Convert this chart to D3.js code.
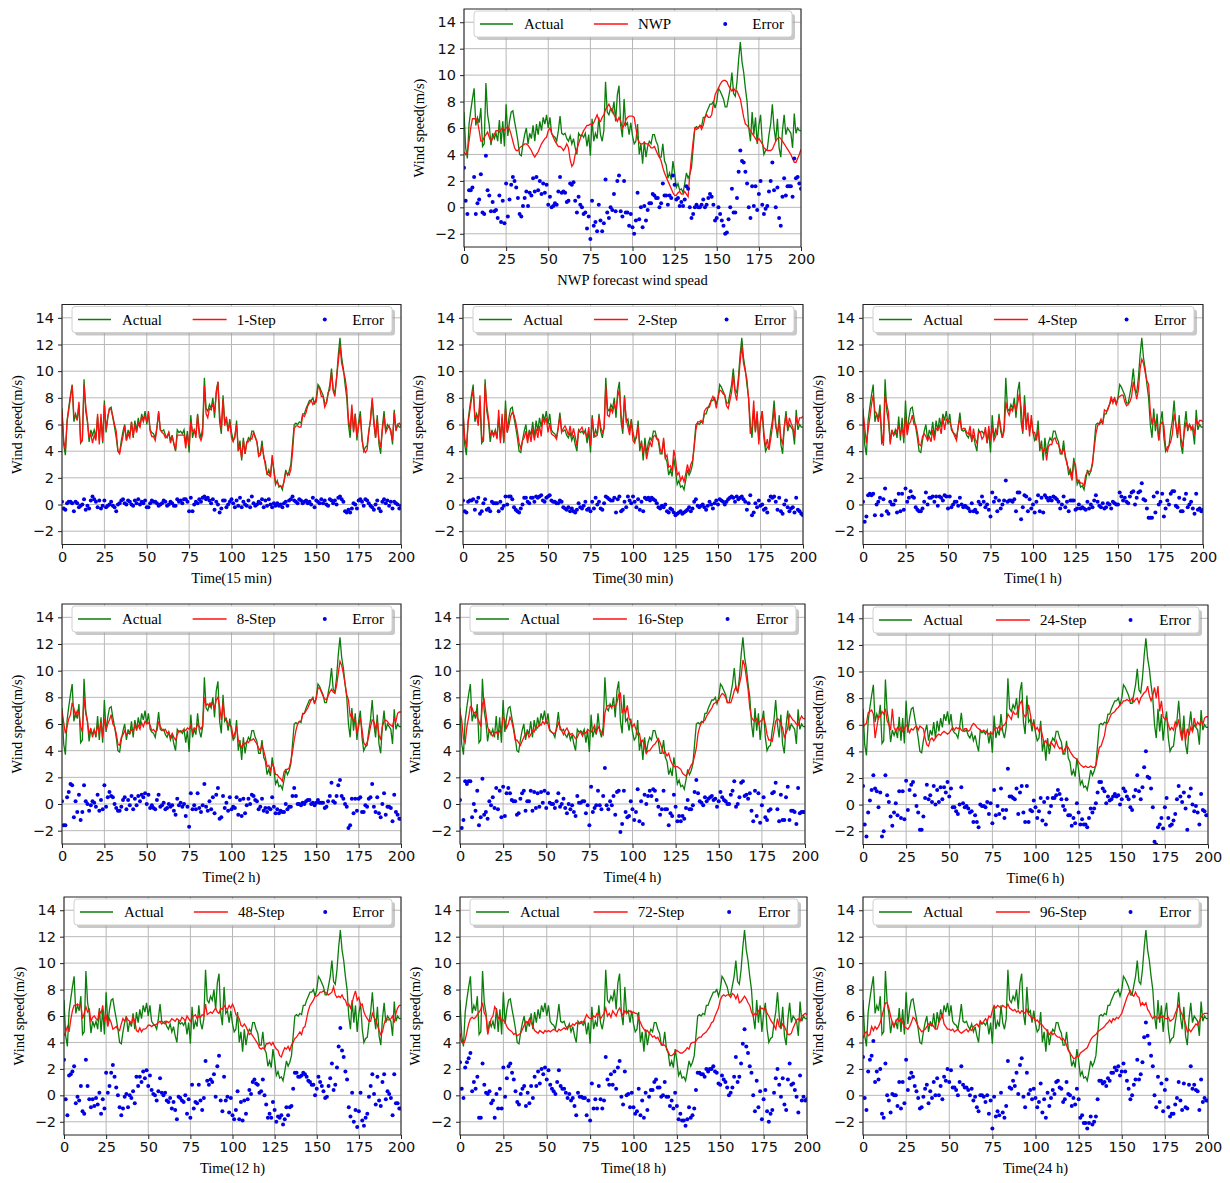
<!DOCTYPE html>
<html><head><meta charset="utf-8">
<script src="https://cdn.jsdelivr.net/npm/d3@7"></script>
<style>body{margin:0;background:#fff}svg{display:block}</style>
</head><body>
<svg id="c" width="1230" height="1183"></svg>
<script>
const actual=[7.2,4.5,3.7,6.3,7.3,8.2,9.0,6.2,6.8,6.4,7.5,4.6,4.8,9.4,7.0,6.2,4.7,5.6,5.2,5.6,5.0,6.6,4.8,6.5,4.6,7.8,5.4,6.5,7.2,7.3,6.5,5.8,5.0,4.0,3.9,4.8,5.5,6.0,4.8,5.6,5.2,6.2,5.0,6.3,5.5,6.5,5.8,6.8,6.3,7.0,6.0,6.8,5.6,5.4,5.3,5.0,5.8,6.9,5.6,5.5,5.6,5.2,5.0,5.4,4.8,5.2,4.5,4.0,5.6,5.4,5.5,5.3,5.6,4.6,5.5,3.9,6.7,5.0,5.6,5.2,6.8,5.5,5.0,5.8,9.5,7.2,7.0,7.5,7.2,8.0,6.5,8.5,9.2,6.2,5.3,8.2,6.2,6.4,5.5,6.4,5.4,4.8,5.0,6.3,4.0,4.8,3.3,5.0,3.8,4.6,5.0,4.8,5.5,5.5,5.0,4.7,3.8,3.8,4.8,3.5,3.2,2.2,2.6,2.1,3.5,2.6,1.5,1.8,1.3,1.4,1.1,1.8,2.6,2.2,2.5,3.0,4.5,6.0,6.1,6.0,6.2,6.1,6.8,6.8,7.2,7.5,7.8,7.8,8.0,7.5,8.0,9.0,8.8,8.5,8.2,7.6,7.6,8.3,9.0,10.2,8.6,8.4,9.5,11.2,12.5,11.0,10.2,9.0,8.0,6.0,5.0,7.2,5.5,6.8,4.8,6.2,7.0,5.0,4.0,4.3,4.4,5.5,6.3,7.8,6.0,5.0,6.7,4.5,3.8,5.8,7.0,5.5,6.0,5.8,5.6,4.5,7.1,5.6,6.0,5.8,5.8];

const nwpFc=[4.2,4.0,4.2,5.0,6.0,6.7,6.7,6.7,6.5,5.8,5.0,5.0,5.3,5.5,5.7,5.3,5.0,5.2,5.5,5.8,5.8,5.7,5.9,6.0,5.8,6.0,6.1,5.9,5.5,5.0,4.5,4.3,4.3,4.5,4.6,4.7,4.8,4.8,4.7,4.5,4.3,4.0,3.8,4.0,4.2,4.5,4.8,5.0,5.2,5.3,5.8,6.0,5.6,5.3,5.0,4.8,4.6,4.6,4.5,4.3,4.5,4.8,4.5,3.6,3.1,3.3,4.0,4.4,4.8,5.2,5.5,5.8,6.0,6.2,6.2,6.3,6.2,6.4,6.7,7.0,6.6,6.5,6.8,7.0,7.4,7.6,7.8,7.5,7.4,7.0,6.8,6.5,6.8,6.5,6.0,6.2,6.6,6.8,6.9,6.9,6.9,6.8,6.0,5.2,4.9,4.8,4.8,4.9,4.8,4.8,4.7,4.5,4.5,4.6,4.3,4.0,3.8,3.5,3.0,2.6,2.3,2.0,1.7,1.4,1.1,0.9,0.9,1.1,1.2,1.0,1.0,1.2,1.0,0.8,2.5,3.8,5.0,6.0,5.9,6.0,6.2,5.9,6.2,6.8,7.0,6.8,6.8,7.0,7.8,8.5,8.8,9.0,9.3,9.5,9.6,9.6,9.5,9.2,9.0,8.8,9.0,8.8,8.8,8.5,8.2,7.5,6.8,6.3,6.2,6.0,5.8,5.6,5.4,5.2,5.0,5.2,5.0,4.8,4.5,4.4,4.3,4.3,4.3,4.4,4.7,5.0,5.2,5.3,5.2,5.0,4.8,4.6,4.4,4.2,4.0,3.7,3.4,3.4,3.7,4.0,4.4];
const nwpErr=[3.0,0.5,-0.5,1.3,1.3,1.5,2.3,-0.5,0.3,0.6,2.5,-0.4,-0.5,3.9,1.3,0.9,-0.3,0.4,-0.3,-0.2,-0.8,0.9,-1.1,0.5,-1.2,1.8,-0.7,0.6,1.7,2.3,2.0,1.5,0.7,-0.5,-0.7,0.1,0.7,1.2,0.1,1.1,0.9,2.2,1.2,2.3,1.3,2.0,1.0,1.8,1.1,1.7,0.2,0.8,0.0,0.1,0.3,0.2,1.2,2.3,1.1,1.2,1.1,0.4,0.5,1.8,1.7,1.9,0.5,-0.4,0.8,0.2,0.0,-0.5,-0.4,-1.6,-0.7,-2.4,0.5,-1.4,-1.1,-1.8,0.2,-1.0,-1.8,-1.2,2.1,-0.4,-0.8,0.0,-0.2,1.0,-0.3,2.0,2.4,-0.3,-0.7,2.0,-0.4,-0.4,-1.4,-0.5,-1.5,-2.0,-1.0,1.1,-0.9,0.0,-1.5,0.1,-1.0,-0.2,0.3,0.3,1.0,0.9,0.7,0.7,0.0,0.3,1.8,0.9,0.9,0.2,0.9,0.7,2.4,1.7,0.6,0.7,0.1,0.4,0.1,0.6,1.6,1.4,0.0,-0.8,-0.5,0.0,0.2,0.0,0.0,0.2,0.6,0.0,0.2,0.7,1.0,0.8,0.2,-1.0,-0.8,0.0,-0.5,-1.0,-1.4,-2.0,-1.9,-0.9,0.0,1.4,-0.4,-0.4,0.7,2.7,4.3,3.5,3.4,2.7,1.8,0.0,-0.8,1.6,0.1,1.6,-0.2,1.0,2.0,0.2,-0.5,-0.1,0.1,1.2,2.0,3.4,1.3,0.0,1.5,-0.8,-1.4,0.8,2.2,0.9,1.6,1.6,1.6,0.8,3.7,2.2,2.3,1.8,1.4];

const step1Fc=[7.0,4.8,4.1,6.2,7.1,8.0,8.9,6.7,6.6,6.3,7.7,4.7,4.8,9.0,7.4,6.3,5.0,5.3,4.6,5.2,4.8,6.8,4.5,6.8,4.7,7.5,5.6,6.6,7.2,7.1,6.6,6.0,5.5,4.0,3.8,4.5,5.1,5.9,4.8,5.3,5.0,6.2,5.1,6.0,5.4,6.1,5.8,6.6,6.2,6.7,6.2,7.0,5.5,5.1,5.1,4.8,5.7,7.0,5.6,5.4,5.3,5.0,5.1,5.4,4.6,5.1,4.6,4.1,5.2,5.2,5.2,5.2,5.2,4.2,5.3,4.4,6.2,5.5,5.6,5.0,6.7,5.1,4.8,5.3,8.9,6.8,6.5,7.2,7.1,7.6,6.9,8.3,9.2,6.8,5.6,7.9,5.9,6.6,5.5,6.2,5.0,4.7,5.2,6.0,4.1,4.3,3.5,4.8,3.8,4.7,4.7,5.0,4.9,5.4,5.1,4.7,3.6,3.7,4.4,3.7,2.9,2.3,2.2,2.1,3.7,2.5,1.6,1.7,1.4,1.4,1.3,1.7,2.4,2.3,2.2,2.6,3.9,5.7,5.9,5.9,5.8,5.8,6.7,6.6,6.9,7.4,7.6,7.8,7.5,7.7,7.7,8.8,8.7,8.1,8.1,7.3,7.6,8.4,8.6,9.9,8.5,8.1,9.5,10.7,11.9,10.6,10.0,9.5,8.6,6.4,5.6,7.5,5.4,6.8,5.1,5.9,6.6,4.8,4.1,3.9,4.1,5.4,6.4,8.0,6.4,5.0,6.4,4.8,4.3,5.6,6.6,5.4,5.7,5.9,5.4,4.8,6.9,5.5,6.0,6.1,5.9];
const step1Err=[0.2,-0.3,-0.4,0.1,0.2,0.2,0.1,-0.5,0.2,0.1,-0.2,-0.1,0.0,0.4,-0.4,-0.1,-0.3,0.3,0.6,0.4,0.2,-0.2,0.3,-0.3,-0.1,0.3,-0.2,-0.1,0.0,0.2,-0.1,-0.2,-0.5,0.0,0.1,0.3,0.4,0.1,0.0,0.3,0.2,0.0,-0.1,0.3,0.1,0.4,0.0,0.2,0.1,0.3,-0.2,-0.2,0.1,0.3,0.2,0.2,0.1,-0.1,0.0,0.1,0.3,0.2,-0.1,0.0,0.2,0.1,-0.1,-0.1,0.4,0.2,0.3,0.1,0.4,0.4,0.2,-0.5,0.5,-0.5,0.0,0.2,0.1,0.4,0.2,0.5,0.6,0.4,0.5,0.3,0.1,0.4,-0.4,0.2,0.0,-0.6,-0.3,0.3,0.3,-0.2,0.0,0.2,0.4,0.1,-0.2,0.3,-0.1,0.5,-0.2,0.2,0.0,-0.1,0.3,-0.2,0.6,0.1,-0.1,0.0,0.2,0.1,0.4,-0.2,0.3,-0.1,0.4,0.0,-0.2,0.1,-0.1,0.1,-0.1,0.0,-0.2,0.1,0.2,-0.1,0.3,0.4,0.6,0.3,0.2,0.1,0.4,0.3,0.1,0.2,0.3,0.1,0.2,0.0,0.5,-0.2,0.3,0.2,0.1,0.4,0.1,0.3,0.0,-0.1,0.4,0.3,0.1,0.3,0.0,0.5,0.6,0.4,0.2,-0.5,-0.6,-0.4,-0.6,-0.3,0.1,0.0,-0.3,0.3,0.4,0.2,-0.1,0.4,0.3,0.1,-0.1,-0.2,-0.4,0.0,0.3,-0.3,-0.5,0.2,0.4,0.1,0.3,-0.1,0.2,-0.3,0.2,0.1,0.0,-0.3,-0.1];

const step2Fc=[6.9,5.0,4.3,6.1,7.0,7.9,8.6,6.6,6.6,5.9,8.2,5.1,4.7,9.0,7.4,6.5,5.2,5.4,5.1,5.5,4.9,7.1,4.6,6.8,4.7,7.2,5.4,5.9,6.6,6.9,6.7,6.2,5.5,4.6,4.2,4.8,5.0,5.5,4.6,5.5,4.7,5.7,4.8,5.7,5.0,5.9,5.1,6.5,6.1,6.5,5.4,6.1,5.3,5.2,5.1,4.9,5.7,6.6,5.4,5.7,5.9,5.6,5.2,5.9,5.1,5.7,5.1,4.4,5.5,5.6,5.8,5.4,5.4,5.0,5.8,4.4,6.5,5.3,5.1,5.2,6.6,5.8,5.4,5.7,8.9,6.7,6.6,7.2,6.9,7.5,7.1,8.1,8.6,6.7,5.7,8.0,6.4,5.8,5.2,6.3,4.8,4.6,5.2,5.9,4.4,4.6,3.8,4.5,3.4,4.1,4.7,4.3,5.1,5.2,4.9,4.9,4.1,3.9,5.0,3.5,3.7,2.8,2.9,2.5,4.1,3.4,2.2,2.4,1.8,2.1,1.7,2.3,3.0,2.4,3.0,3.3,4.3,5.6,6.2,6.2,6.3,6.1,7.0,7.2,7.3,7.3,7.8,8.1,7.9,7.2,8.0,8.6,8.5,8.3,8.2,7.4,7.2,7.8,8.4,9.7,8.4,7.8,9.1,10.7,11.9,10.6,10.0,9.4,7.9,5.3,5.8,7.8,5.4,7.0,4.5,6.3,7.0,5.4,4.3,4.9,4.1,4.9,5.8,7.2,5.8,5.4,6.2,5.0,4.5,5.8,6.7,5.7,6.5,6.1,5.8,5.1,6.6,6.0,6.5,6.5,6.6];
const step2Err=[0.3,-0.5,-0.6,0.2,0.3,0.3,0.4,-0.4,0.2,0.5,-0.7,-0.5,0.1,0.4,-0.4,-0.3,-0.5,0.2,0.1,0.1,0.1,-0.5,0.2,-0.3,-0.1,0.6,0.0,0.6,0.6,0.4,-0.2,-0.4,-0.5,-0.6,-0.3,0.0,0.5,0.5,0.2,0.1,0.5,0.5,0.2,0.6,0.5,0.6,0.7,0.3,0.2,0.5,0.6,0.7,0.3,0.2,0.2,0.1,0.1,0.3,0.2,-0.2,-0.3,-0.4,-0.2,-0.5,-0.3,-0.5,-0.6,-0.4,0.1,-0.2,-0.3,-0.1,0.2,-0.4,-0.3,-0.5,0.2,-0.3,0.5,0.0,0.2,-0.3,-0.4,0.1,0.6,0.5,0.4,0.3,0.3,0.5,-0.6,0.4,0.6,-0.5,-0.4,0.2,-0.2,0.6,0.3,0.1,0.6,0.2,-0.2,0.4,-0.4,0.2,-0.5,0.5,0.4,0.5,0.3,0.5,0.4,0.3,0.1,-0.2,-0.3,-0.1,-0.2,0.0,-0.5,-0.6,-0.3,-0.4,-0.6,-0.8,-0.7,-0.6,-0.5,-0.7,-0.6,-0.5,-0.4,-0.2,-0.5,-0.3,0.2,0.4,-0.1,-0.2,-0.1,0.0,-0.2,-0.4,-0.1,0.2,0.0,-0.3,0.1,0.3,0.0,0.4,0.3,0.2,0.0,0.2,0.4,0.5,0.6,0.5,0.2,0.6,0.4,0.5,0.6,0.4,0.2,-0.4,0.1,0.7,-0.8,-0.6,0.1,-0.2,0.3,-0.1,0.0,-0.4,-0.3,-0.6,0.3,0.6,0.5,0.6,0.2,-0.4,0.5,-0.5,-0.7,0.0,0.3,-0.2,-0.5,-0.3,-0.2,-0.6,0.5,-0.4,-0.5,-0.7,-0.8];

const step4Fc=[7.0,5.8,4.6,5.6,6.5,7.5,8.2,7.0,6.8,6.2,7.0,5.4,4.4,8.2,7.5,6.9,4.5,5.6,5.2,5.3,5.6,5.8,5.3,5.7,5.0,6.6,5.2,6.0,6.2,6.7,6.0,6.0,5.4,4.5,4.4,5.1,5.3,5.1,4.8,5.1,4.7,5.6,4.8,5.7,5.6,5.9,5.3,6.5,5.6,6.4,6.3,6.2,5.8,5.4,5.1,4.8,5.9,6.4,5.6,5.7,5.7,5.4,5.3,5.9,4.7,5.7,4.9,4.6,5.4,5.4,4.9,5.1,5.8,4.6,5.9,4.8,5.8,4.8,5.1,5.7,6.5,5.8,5.0,5.5,7.7,7.0,6.7,7.2,7.0,7.6,7.0,7.6,8.3,7.3,5.5,7.5,5.6,6.9,5.1,6.7,5.4,5.4,4.8,5.6,4.5,4.3,3.9,4.3,3.3,4.3,4.5,4.5,4.9,5.0,4.6,4.5,4.1,3.8,4.2,3.7,3.0,2.7,2.3,1.8,3.2,3.0,1.8,1.8,1.6,1.6,1.4,2.2,2.4,2.5,2.5,3.2,4.2,5.3,5.9,6.1,6.4,6.0,7.1,7.0,7.1,7.5,8.1,7.6,7.9,7.5,8.0,8.1,8.2,8.2,7.7,7.4,7.5,7.7,8.1,9.2,8.6,7.9,8.6,10.2,10.9,10.6,9.9,9.3,9.0,7.0,6.0,6.6,6.1,5.9,4.8,6.0,6.2,5.9,4.3,4.0,4.4,4.7,5.3,6.8,6.1,5.2,6.2,5.0,4.3,5.4,6.2,5.7,6.0,5.6,5.9,5.2,6.3,6.0,6.3,6.3,6.2];
const step4Err=[0.2,-1.3,-0.9,0.7,0.8,0.7,0.8,-0.8,0.0,0.2,0.5,-0.8,0.4,1.2,-0.5,-0.7,0.2,0.0,0.0,0.3,-0.6,0.8,-0.5,0.8,-0.4,1.2,0.2,0.5,1.0,0.6,0.5,-0.2,-0.4,-0.5,-0.5,-0.3,0.2,0.9,0.0,0.5,0.5,0.6,0.2,0.6,-0.1,0.6,0.5,0.3,0.7,0.6,-0.3,0.6,-0.2,0.0,0.2,0.2,-0.1,0.5,0.0,-0.2,-0.1,-0.2,-0.3,-0.5,0.1,-0.5,-0.4,-0.6,0.2,0.0,0.6,0.2,-0.2,0.0,-0.4,-0.9,0.9,0.2,0.5,-0.5,0.3,-0.3,0.0,0.3,1.8,0.2,0.3,0.3,0.2,0.4,-0.5,0.9,0.9,-1.1,-0.2,0.7,0.6,-0.5,0.4,-0.3,0.0,-0.6,0.2,0.7,-0.5,0.5,-0.6,0.7,0.5,0.3,0.5,0.3,0.6,0.5,0.4,0.2,-0.3,0.0,0.6,-0.2,0.2,-0.5,0.3,0.3,0.3,-0.4,-0.3,0.0,-0.3,-0.2,-0.3,-0.4,0.2,-0.3,0.0,-0.2,0.3,0.7,0.2,-0.1,-0.2,0.1,-0.3,-0.2,0.1,0.0,-0.3,0.2,0.1,0.0,0.0,0.9,0.6,0.3,0.5,0.2,0.1,0.6,0.9,1.0,0.0,0.5,0.9,1.0,1.6,0.4,0.3,-0.3,-1.0,-1.0,-1.0,0.6,-0.6,0.9,0.0,0.2,0.8,-0.9,-0.3,0.3,0.0,0.8,1.0,1.0,-0.1,-0.2,0.5,-0.5,-0.5,0.4,0.8,-0.2,0.0,0.2,-0.3,-0.7,0.8,-0.4,-0.3,-0.5,-0.4];

const step8Fc=[7.0,6.1,5.3,5.8,6.4,6.7,7.6,7.2,6.6,7.0,6.8,5.8,5.4,8.0,6.8,6.2,5.2,5.7,5.0,5.5,5.2,5.9,5.3,6.2,5.0,6.4,5.6,6.0,6.3,6.7,6.0,5.8,5.3,4.5,4.4,5.0,5.2,5.5,5.2,5.3,5.3,5.6,5.4,5.9,5.6,5.9,5.6,6.1,5.8,6.2,6.0,6.1,5.9,5.5,5.6,5.4,5.5,6.2,5.8,5.6,5.5,5.6,5.3,5.4,5.0,5.3,5.0,4.8,5.2,5.5,5.4,5.5,5.6,5.5,5.7,5.6,5.9,5.4,5.7,5.6,6.0,5.8,5.6,5.9,8.0,7.4,7.5,7.3,7.6,7.5,7.2,7.8,8.0,7.3,6.3,7.6,6.5,6.3,6.0,5.9,5.8,5.0,5.3,5.8,4.8,4.5,4.2,4.6,4.5,4.7,4.6,4.8,4.8,4.9,4.7,4.5,4.2,4.0,4.4,4.0,3.5,2.8,2.9,2.5,3.0,2.8,2.2,2.2,2.0,1.9,1.7,2.4,2.6,2.6,2.7,3.2,3.9,4.8,5.5,6.0,6.2,6.2,6.7,6.8,7.0,7.2,7.5,7.8,7.9,7.6,7.9,8.7,8.7,8.4,8.1,7.9,7.8,8.1,8.4,8.6,8.4,8.3,8.9,9.8,10.7,10.4,9.8,9.0,8.2,7.8,6.6,6.8,6.2,6.4,5.3,5.8,6.5,5.6,4.6,4.4,4.6,5.1,5.8,6.3,6.2,5.6,6.2,5.2,4.8,5.8,6.2,6.3,6.2,6.0,5.9,5.8,6.4,6.2,6.8,6.9,6.9];
const step8Err=[0.2,-1.6,-1.6,0.5,0.9,1.5,1.4,-1.0,0.2,-0.6,0.7,-1.2,-0.6,1.4,0.2,0.0,-0.5,-0.1,0.2,0.1,-0.2,0.7,-0.5,0.3,-0.4,1.4,-0.2,0.5,0.9,0.6,0.5,0.0,-0.3,-0.5,-0.5,-0.2,0.3,0.5,-0.4,0.3,-0.1,0.6,-0.4,0.4,-0.1,0.6,0.2,0.7,0.5,0.8,0.0,0.7,-0.3,-0.1,-0.3,-0.4,0.3,0.7,-0.2,-0.1,0.1,-0.4,-0.3,0.0,-0.2,-0.1,-0.5,-0.8,0.4,-0.1,0.1,-0.2,0.0,-0.9,-0.2,-1.7,0.8,-0.4,-0.1,-0.4,0.8,-0.3,-0.6,-0.1,1.5,-0.2,-0.5,0.2,-0.4,0.5,-0.7,0.7,1.2,-1.1,-1.0,0.6,-0.3,0.1,-0.5,0.5,-0.4,-0.2,-0.3,0.5,-0.8,0.3,-0.9,0.4,-0.7,-0.1,0.4,0.0,0.7,0.6,0.3,0.2,-0.4,-0.2,0.4,-0.5,-0.3,-0.6,-0.3,-0.4,0.5,-0.2,-0.7,-0.4,-0.7,-0.5,-0.6,-0.6,0.0,-0.4,-0.2,-0.2,0.6,1.2,0.6,0.0,0.0,-0.1,0.1,0.0,0.2,0.3,0.3,0.0,0.1,-0.1,0.1,0.3,0.1,0.1,0.1,-0.3,-0.2,0.2,0.6,1.6,0.2,0.1,0.6,1.4,1.8,0.6,0.4,0.0,-0.2,-1.8,-1.6,0.4,-0.7,0.4,-0.5,0.4,0.5,-0.6,-0.6,-0.1,-0.2,0.4,0.5,1.5,-0.2,-0.6,0.5,-0.7,-1.0,0.0,0.8,-0.8,-0.2,-0.2,-0.3,-1.3,0.7,-0.6,-0.8,-1.1,-1.1];

const step16Fc=[6.9,6.3,4.9,4.6,5.8,6.5,7.3,7.2,6.8,6.9,6.5,6.2,5.8,7.5,7.8,6.8,5.8,5.4,5.3,5.1,5.3,5.4,5.2,5.5,5.6,6.5,6.3,5.7,6.0,6.5,6.2,5.6,4.8,4.8,4.6,4.4,4.7,5.0,5.3,5.4,5.0,5.2,5.5,5.4,5.8,5.7,6.0,5.9,6.2,6.0,6.3,6.0,5.5,5.4,5.3,5.3,5.6,6.1,5.8,5.5,5.2,5.5,5.7,5.4,5.2,5.3,5.1,4.9,5.0,5.3,5.4,5.1,5.4,5.3,5.6,5.5,5.4,5.6,5.9,5.3,5.8,5.6,5.4,5.2,6.8,7.3,7.4,7.3,7.3,7.4,7.3,7.6,8.2,8.3,6.8,7.2,6.8,7.4,6.4,6.2,5.8,6.0,5.6,5.2,5.3,4.6,4.8,4.3,3.8,4.0,4.0,4.2,4.4,4.5,4.7,4.9,4.6,4.2,3.8,3.9,3.6,3.8,3.3,3.0,2.8,2.8,2.8,2.7,2.6,2.3,2.2,2.1,2.3,2.6,2.9,3.1,3.6,4.2,5.3,5.8,6.1,6.2,6.3,6.6,6.8,7.0,7.2,7.5,7.6,7.7,7.8,8.1,8.3,8.2,8.0,7.6,7.6,7.6,8.0,8.5,8.8,8.4,9.0,9.6,10.8,10.4,9.5,8.6,7.2,6.5,6.3,6.2,6.4,6.0,6.2,6.3,6.5,6.0,5.2,4.8,4.8,4.7,5.4,6.2,6.4,6.3,6.0,5.7,5.0,5.3,5.7,6.7,6.5,6.3,6.2,6.0,5.9,6.3,6.6,6.4,6.4];
const step16Err=[0.3,-1.8,-1.2,1.7,1.5,1.7,1.7,-1.0,0.0,-0.5,1.0,-1.6,-1.0,1.9,-0.8,-0.6,-1.1,0.2,-0.1,0.5,-0.3,1.2,-0.4,1.0,-1.0,1.3,-0.9,0.8,1.2,0.8,0.3,0.2,0.2,-0.8,-0.7,0.4,0.8,1.0,-0.5,0.2,0.2,1.0,-0.5,0.9,-0.3,0.8,-0.2,0.9,0.1,1.0,-0.3,0.8,0.1,0.0,0.0,-0.3,0.2,0.8,-0.2,0.0,0.4,-0.3,-0.7,0.0,-0.4,-0.1,-0.6,-0.9,0.6,0.1,0.1,0.2,0.2,-0.7,-0.1,-1.6,1.3,-0.6,-0.3,-0.1,1.0,-0.1,-0.4,0.6,2.7,-0.1,-0.4,0.2,-0.1,0.6,-0.8,0.9,1.0,-2.1,-1.5,1.0,-0.6,-1.0,-0.9,0.2,-0.4,-1.2,-0.6,1.1,-1.3,0.2,-1.5,0.7,0.0,0.6,1.0,0.6,1.1,1.0,0.3,-0.2,-0.8,-0.4,1.0,-0.4,-0.4,-1.6,-0.7,-0.9,0.7,-0.2,-1.3,-0.9,-1.3,-0.9,-1.1,-0.3,0.3,-0.4,-0.4,-0.1,0.9,1.8,0.8,0.2,0.1,-0.1,0.5,0.2,0.4,0.5,0.6,0.3,0.4,-0.2,0.2,0.9,0.5,0.3,0.2,0.0,0.0,0.7,1.0,1.7,-0.2,0.0,0.5,1.6,1.7,0.6,0.7,0.4,0.8,-0.5,-1.3,1.0,-0.9,0.8,-1.4,-0.1,0.5,-1.0,-1.2,-0.5,-0.4,0.8,0.9,1.6,-0.4,-1.3,0.7,-1.2,-1.2,0.5,1.3,-1.2,-0.5,-0.5,-0.6,-1.5,1.2,-0.7,-0.6,-0.6,-0.6];

const step24Fc=[5.8,6.0,6.1,6.9,7.0,7.1,6.8,5.0,5.8,6.6,6.6,7.0,6.8,7.2,6.3,6.0,5.6,7.2,5.8,5.5,5.8,5.6,5.8,5.5,5.7,6.0,5.8,5.4,5.7,5.6,5.8,5.9,5.6,5.9,5.8,5.7,5.0,4.5,4.4,4.9,5.0,4.8,5.0,5.2,5.3,5.2,5.4,5.5,5.4,5.3,5.4,5.6,5.8,5.6,5.8,5.7,5.8,5.6,5.5,5.7,5.7,5.5,5.6,5.9,6.1,6.0,5.8,5.7,5.6,5.5,5.6,5.5,5.4,5.3,5.4,5.3,5.6,5.8,5.7,5.9,5.6,5.9,6.0,6.2,6.8,6.6,6.4,7.0,6.8,6.8,7.2,7.6,7.8,6.8,6.6,6.8,7.5,6.8,6.0,6.1,5.6,5.8,5.5,5.8,5.2,4.6,4.8,4.5,4.4,4.7,4.5,4.3,4.8,4.4,4.2,4.3,3.9,4.2,4.4,4.3,4.0,3.8,3.6,3.5,3.4,3.2,3.0,2.9,2.8,2.9,2.8,2.8,2.9,2.8,2.8,2.9,3.6,4.3,4.4,4.8,5.2,6.0,6.2,6.5,6.8,6.9,7.0,7.2,7.3,7.5,7.6,7.8,7.8,7.9,7.8,7.8,8.0,7.7,7.9,8.0,7.6,8.0,8.2,8.4,8.5,8.9,8.2,7.8,8.2,8.8,8.0,8.9,7.0,7.8,6.6,6.4,6.5,6.0,5.6,5.8,5.6,6.2,5.9,6.4,5.4,4.8,5.8,4.8,5.7,5.2,5.8,5.5,6.5,5.9,6.2,6.0,6.3,6.0,6.5,6.6,6.6];
const step24Err=[1.4,-1.5,-2.4,-0.6,0.3,1.1,2.2,1.2,1.0,-0.2,0.9,-2.4,-2.0,2.2,0.7,0.2,-0.9,-1.6,-0.6,0.1,-0.8,1.0,-1.0,1.0,-1.1,1.8,-0.4,1.1,1.5,1.7,0.7,-0.1,-0.6,-1.9,-1.9,-0.9,0.5,1.5,0.4,0.7,0.2,1.4,0.0,1.1,0.2,1.3,0.4,1.3,0.9,1.7,0.6,1.2,-0.2,-0.2,-0.5,-0.7,0.0,1.3,0.1,-0.2,-0.1,-0.3,-0.6,-0.5,-1.3,-0.8,-1.3,-1.7,0.0,-0.1,-0.1,-0.2,0.2,-0.7,0.1,-1.4,1.1,-0.8,-0.1,-0.7,1.2,-0.4,-1.0,-0.4,2.7,0.6,0.6,0.5,0.4,1.2,-0.7,0.9,1.4,-0.6,-1.3,1.4,-1.3,-0.4,-0.5,0.3,-0.2,-1.0,-0.5,0.5,-1.2,0.2,-1.5,0.5,-0.6,-0.1,0.5,0.5,0.7,1.1,0.8,0.4,-0.1,-0.4,0.4,-0.8,-0.8,-1.6,-1.0,-1.4,0.1,-0.6,-1.5,-1.1,-1.5,-1.5,-1.7,-1.0,-0.3,-0.6,-0.3,0.1,0.9,1.7,1.7,1.2,1.0,0.1,0.6,0.3,0.4,0.6,0.8,0.6,0.7,0.0,0.4,1.2,1.0,0.6,0.4,-0.2,-0.4,0.6,1.1,2.2,1.0,0.4,1.3,2.8,4.0,2.1,2.0,1.2,-0.2,-2.8,-3.0,-1.7,-1.5,-1.0,-1.8,-0.2,0.5,-1.0,-1.6,-1.5,-1.2,-0.7,0.4,1.4,0.6,0.2,0.9,-0.3,-1.9,0.6,1.2,0.0,-0.5,-0.1,-0.6,-1.5,0.8,-0.4,-0.5,-0.8,-0.8];

const step48Fc=[4.5,4.8,5.2,4.8,5.7,6.4,6.8,6.8,6.9,6.8,6.8,5.8,6.2,6.7,6.3,6.5,5.6,5.9,6.0,5.8,5.7,6.4,6.2,6.8,5.6,6.1,5.2,5.8,5.5,5.0,5.1,5.2,5.0,4.9,5.4,5.8,5.6,5.9,5.7,5.6,5.4,5.9,5.6,4.9,4.8,5.1,4.8,5.0,5.0,5.1,5.3,5.3,5.2,5.3,5.3,5.4,5.5,5.6,5.4,5.5,5.4,5.6,5.5,5.6,5.8,5.7,5.6,5.8,5.7,5.6,5.9,5.8,5.6,6.0,5.8,5.6,5.9,6.0,6.1,5.8,6.0,5.9,6.1,6.0,6.9,6.1,6.2,6.3,6.2,6.4,6.6,6.3,6.2,6.6,6.5,6.8,6.6,6.5,6.8,6.6,6.9,6.6,6.1,6.0,5.8,5.3,5.2,5.4,5.2,4.9,4.6,4.7,4.5,4.3,4.1,3.9,3.6,3.5,3.6,3.5,3.9,3.9,4.0,3.8,4.0,3.7,3.5,3.4,3.0,2.9,3.3,3.6,3.5,3.7,3.4,3.8,4.0,4.3,4.4,4.6,4.8,4.6,5.1,5.2,5.8,6.4,6.8,7.0,7.2,7.5,7.5,7.6,7.8,7.8,7.9,7.8,7.7,7.6,7.7,7.8,8.2,7.6,7.4,7.5,7.4,7.6,7.3,7.2,6.8,6.9,6.6,7.0,7.5,7.9,7.2,7.4,6.8,6.9,6.3,6.0,5.8,5.6,5.6,6.2,5.9,5.7,5.3,4.9,4.6,4.8,5.4,5.8,5.7,5.7,5.8,6.0,5.5,6.2,6.6,6.8,6.8];
const step48Err=[2.7,-0.3,-1.5,1.5,1.6,1.8,2.2,-0.6,-0.1,-0.4,0.7,-1.2,-1.4,2.7,0.7,-0.3,-0.9,-0.3,-0.8,-0.2,-0.7,0.2,-1.4,-0.3,-1.0,1.7,0.2,0.7,1.7,2.3,1.4,0.6,0.0,-0.9,-1.5,-1.0,-0.1,0.1,-0.9,0.0,-0.2,0.3,-0.6,1.4,0.7,1.4,1.0,1.8,1.3,1.9,0.7,1.5,0.4,0.1,0.0,-0.4,0.3,1.3,0.2,0.0,0.2,-0.4,-0.5,-0.2,-1.0,-0.5,-1.1,-1.8,-0.1,-0.2,-0.4,-0.5,0.0,-1.4,-0.3,-1.7,0.8,-1.0,-0.5,-0.6,0.8,-0.4,-1.1,-0.2,2.6,1.1,0.8,1.2,1.0,1.6,-0.1,2.2,3.0,-0.4,-1.2,1.4,-0.4,-0.1,-1.3,-0.2,-1.5,-1.8,-1.1,0.3,-1.8,-0.5,-1.9,-0.4,-1.4,-0.3,0.4,0.1,1.0,1.2,0.9,0.8,0.2,0.3,1.2,0.0,-0.7,-1.7,-1.4,-1.7,-0.5,-1.1,-2.0,-1.6,-1.7,-1.5,-2.2,-1.8,-0.9,-1.5,-0.9,-0.8,0.5,1.7,1.7,1.4,1.4,1.5,1.7,1.6,1.4,1.1,1.0,0.8,0.8,0.0,0.5,1.4,1.0,0.7,0.3,-0.2,-0.1,0.7,1.3,2.4,0.4,0.8,2.1,3.7,5.1,3.4,2.9,1.8,1.2,-0.9,-1.6,0.2,-2.0,-1.1,-2.4,-1.2,0.2,-1.9,-2.3,-1.7,-1.4,-0.1,0.7,1.6,0.1,-0.7,1.4,-0.4,-0.8,1.0,1.6,-0.3,0.3,0.1,-0.2,-1.5,1.6,-0.6,-0.6,-1.0,-1.0];

const step72Fc=[4.7,4.0,3.9,4.2,4.8,5.4,5.8,5.9,5.8,5.9,6.1,6.3,6.5,7.0,6.2,6.0,4.6,5.3,5.8,6.0,6.7,6.5,5.8,6.0,5.6,5.7,5.5,5.2,5.0,4.9,4.8,4.6,4.7,4.5,4.6,4.7,5.0,5.3,5.6,5.4,5.8,5.5,5.2,4.9,4.8,4.7,4.9,4.8,4.7,4.9,4.8,4.9,4.8,4.9,5.0,4.9,4.8,5.0,4.9,5.0,5.1,5.0,5.2,5.3,5.2,5.4,5.3,5.5,5.4,5.5,5.6,5.5,5.8,6.1,5.9,5.8,5.8,6.0,5.9,6.2,6.1,5.8,6.0,6.2,6.6,6.0,6.2,5.9,6.4,6.2,6.0,6.4,6.6,6.3,6.0,6.4,6.2,6.3,6.4,6.2,6.3,6.2,6.2,5.8,5.5,5.2,5.0,4.8,4.9,4.7,4.6,4.4,4.5,4.3,4.4,4.1,3.9,3.8,3.8,3.6,3.3,3.0,3.0,3.1,3.3,3.4,3.3,3.2,3.2,3.3,3.4,3.6,3.5,3.9,4.0,4.0,4.1,4.3,4.4,4.4,4.6,4.7,4.8,5.0,5.2,5.5,5.6,6.0,6.3,6.6,7.2,7.5,7.6,7.5,7.6,7.6,7.4,7.7,7.6,7.3,7.6,7.0,7.1,7.3,7.5,7.3,7.0,6.8,6.3,6.0,6.2,6.1,6.4,6.5,6.6,6.5,6.6,6.2,6.0,5.7,5.5,5.3,5.0,5.8,5.2,5.1,5.4,5.2,4.9,4.6,4.6,4.7,5.1,5.4,5.7,5.8,5.6,6.0,6.1,6.2,6.1];
const step72Err=[2.5,0.5,-0.2,2.1,2.5,2.8,3.2,0.3,1.0,0.5,1.4,-1.7,-1.7,2.4,0.8,0.2,0.1,0.3,-0.6,-0.4,-1.7,0.1,-1.0,0.5,-1.0,2.1,-0.1,1.3,2.2,2.4,1.7,1.2,0.3,-0.5,-0.7,0.1,0.5,0.7,-0.8,0.2,-0.6,0.7,-0.2,1.4,0.7,1.8,0.9,2.0,1.6,2.1,1.2,1.9,0.8,0.5,0.3,0.1,1.0,1.9,0.7,0.5,0.5,0.2,-0.2,0.1,-0.4,-0.2,-0.8,-1.5,0.2,-0.1,-0.1,-0.2,-0.2,-1.5,-0.4,-1.9,0.9,-1.0,-0.3,-1.0,0.7,-0.3,-1.0,-0.4,2.9,1.2,0.8,1.6,0.8,1.8,0.5,2.1,2.6,-0.1,-0.7,1.8,0.0,0.1,-0.9,0.2,-0.9,-1.4,-1.2,0.5,-1.5,-0.4,-1.7,0.2,-1.1,-0.1,0.4,0.4,1.0,1.2,0.6,0.6,-0.1,0.0,1.0,-0.1,-0.1,-0.8,-0.4,-1.0,0.2,-0.8,-1.8,-1.4,-1.9,-1.9,-2.3,-1.8,-0.9,-1.7,-1.5,-1.0,0.4,1.7,1.7,1.6,1.6,1.4,2.0,1.8,2.0,2.0,2.2,1.8,1.7,0.9,0.8,1.5,1.2,1.0,0.6,0.0,0.2,0.6,1.4,2.9,1.0,1.4,2.4,3.9,5.0,3.7,3.2,2.2,1.7,0.0,-1.2,1.1,-0.9,0.3,-1.8,-0.3,0.4,-1.2,-2.0,-1.4,-1.1,0.2,1.3,2.0,0.8,-0.1,1.3,-0.7,-1.1,1.2,2.4,0.8,0.9,0.4,-0.1,-1.3,1.5,-0.4,-0.1,-0.4,-0.3];

const step96Fc=[4.3,4.7,4.8,4.5,4.6,5.2,4.9,5.2,5.0,5.2,5.5,6.0,6.5,7.0,7.0,6.6,6.0,5.5,5.2,5.6,5.8,5.6,5.8,5.5,5.2,5.1,5.0,5.2,5.5,5.9,5.8,5.5,5.2,5.0,4.8,4.9,5.0,5.2,5.4,5.3,5.4,5.2,5.0,5.0,5.5,5.8,6.1,5.4,5.2,5.0,5.0,4.9,5.0,4.8,4.9,5.0,4.8,4.7,4.8,4.9,5.0,4.8,5.0,4.9,5.2,5.3,5.4,5.2,5.6,5.4,5.6,5.8,5.6,6.0,5.9,6.4,6.8,6.6,6.8,6.7,6.6,6.8,6.7,6.6,6.9,6.6,6.5,6.4,6.5,6.3,6.4,6.2,6.4,6.3,6.2,6.5,6.1,6.0,5.8,5.9,5.6,5.7,5.5,5.4,5.3,5.1,5.0,4.8,4.6,4.8,4.6,4.7,4.5,4.4,4.4,4.2,4.3,4.1,3.8,3.4,3.2,3.0,2.8,2.8,3.0,2.9,3.2,3.3,3.4,3.5,3.6,3.9,4.2,4.4,4.5,4.6,4.8,4.9,5.0,5.1,5.2,5.4,5.5,5.7,5.5,5.8,5.7,5.9,5.8,6.0,6.2,6.6,7.0,7.4,7.7,7.9,7.6,7.5,7.8,7.5,7.4,6.8,7.0,6.8,7.0,6.5,6.3,6.0,5.8,6.0,5.9,5.8,6.0,5.9,6.0,5.8,5.8,5.9,5.6,5.7,5.8,6.2,6.5,6.8,6.4,6.1,5.8,5.4,4.8,5.0,4.8,5.0,5.2,5.4,5.3,5.6,5.9,6.1,6.2,6.2,6.2];
const step96Err=[2.9,-0.2,-1.1,1.8,2.7,3.0,4.1,1.0,1.8,1.2,2.0,-1.4,-1.7,2.4,0.0,-0.4,-1.3,0.1,0.0,0.0,-0.8,1.0,-1.0,1.0,-0.6,2.7,0.4,1.3,1.7,1.4,0.7,0.3,-0.2,-1.0,-0.9,-0.1,0.5,0.8,-0.6,0.3,-0.2,1.0,0.0,1.3,0.0,0.7,-0.3,1.4,1.1,2.0,1.0,1.9,0.6,0.6,0.4,0.0,1.0,2.2,0.8,0.6,0.6,0.4,0.0,0.5,-0.4,-0.1,-0.9,-1.2,0.0,0.0,-0.1,-0.5,0.0,-1.4,-0.4,-2.5,-0.1,-1.6,-1.2,-1.5,0.2,-1.3,-1.7,-0.8,2.6,0.6,0.5,1.1,0.7,1.7,0.1,2.3,2.8,-0.1,-0.9,1.7,0.1,0.4,-0.3,0.5,-0.2,-0.9,-0.5,0.9,-1.3,-0.3,-1.7,0.2,-0.8,-0.2,0.4,0.1,1.0,1.1,0.6,0.5,-0.5,-0.3,1.0,0.1,0.0,-0.8,-0.2,-0.7,0.5,-0.3,-1.7,-1.5,-2.1,-2.1,-2.5,-2.1,-1.6,-2.2,-2.0,-1.6,-0.3,1.1,1.1,0.9,1.0,0.7,1.3,1.1,1.7,1.7,2.1,1.9,2.2,1.5,1.8,2.4,1.8,1.1,0.5,-0.3,0.0,0.8,1.2,2.7,1.2,1.6,2.5,4.4,5.5,4.5,3.9,3.0,2.2,0.0,-0.9,1.4,-0.5,0.9,-1.2,0.4,1.2,-0.9,-1.6,-1.4,-1.4,-0.7,-0.2,1.0,-0.4,-1.1,0.9,-0.9,-1.0,0.8,2.2,0.5,0.8,0.4,0.3,-1.1,1.2,-0.5,-0.2,-0.4,-0.4];

const forecastNames=["NWP","1-Step","2-Step","4-Step","8-Step","16-Step","24-Step","48-Step","72-Step","96-Step"];
const xAxisLabels=["NWP forecast wind spead","Time(15 min)","Time(30 min)","Time(1 h)","Time(2 h)","Time(4 h)","Time(6 h)","Time(12 h)","Time(18 h)","Time(24 h)"];
const forecastSeries=[nwpFc,step1Fc,step2Fc,step4Fc,step8Fc,step16Fc,step24Fc,step48Fc,step72Fc,step96Fc];
const errorSeries=[nwpErr,step1Err,step2Err,step4Err,step8Err,step16Err,step24Err,step48Err,step72Err,step96Err];
const xTickValues=[0,25,50,75,100,125,150,175,200];
const yTickValues=[-2,0,2,4,6,8,10,12,14];

// panel frames: [left, top, width, height]
const frames=[[464,9,337,238],[62,304.5,339,240],[463,304.5,340,240],[863,304.5,340,240],[62,604,339,240],[460,604,345,240],[863,605,345,239.5],[64,897,337,238],[460,897,347,238],[863,897,345,238]];

const svg=d3.select("#c");
const SANS="DejaVu Sans, sans-serif", SERIF="Liberation Serif, Times New Roman, serif";

frames.forEach((f,k)=>{
  const [L,T,w,h]=f;
  const g=svg.append("g").attr("transform",`translate(${L},${T})`);
  const xs=d3.scaleLinear().domain([0,200]).range([0,w]);
  const ys=d3.scaleLinear().domain([-3,15]).range([h,0]);
  const cid="clip"+k;
  g.append("clipPath").attr("id",cid).append("rect").attr("width",w).attr("height",h);

  // grid
  g.append("g").selectAll("line").data(xTickValues).join("line")
    .attr("x1",d=>xs(d)).attr("x2",d=>xs(d)).attr("y1",0).attr("y2",h)
    .attr("stroke","#b8b8b8").attr("stroke-width",1);
  g.append("g").selectAll("line").data(yTickValues).join("line")
    .attr("y1",d=>ys(d)).attr("y2",d=>ys(d)).attr("x1",0).attr("x2",w)
    .attr("stroke","#b8b8b8").attr("stroke-width",1);

  // axes
  const xa=g.append("g").attr("transform",`translate(0,${h})`)
    .call(d3.axisBottom(xs).tickValues(xTickValues).tickSize(4).tickPadding(3).tickFormat(d3.format("d")));
  const ya=g.append("g")
    .call(d3.axisLeft(ys).tickValues(yTickValues).tickSize(4).tickPadding(4).tickFormat(d3.format("d")));
  [xa,ya].forEach(a=>{
    a.select(".domain").remove();
    a.selectAll(".tick line").attr("stroke","#222");
    a.selectAll(".tick text").attr("font-family",SANS).attr("font-size",14.5).attr("fill","#111");
  });

  const plot=g.append("g").attr("clip-path",`url(#${cid})`);
  const line=d3.line().x((d,i)=>xs(i)).y(d=>ys(d));
  plot.append("path").datum(actual).attr("d",line).attr("fill","none").attr("stroke","#0a7d0a").attr("stroke-width",1.3);
  plot.append("path").datum(forecastSeries[k]).attr("d",line).attr("fill","none").attr("stroke","#ff1010").attr("stroke-width",1.3);
  plot.append("g").selectAll("circle").data(errorSeries[k]).join("circle")
    .attr("cx",(d,i)=>xs(i)).attr("cy",d=>ys(d)).attr("r",2).attr("fill","#0000e6");

  // frame
  g.append("rect").attr("width",w).attr("height",h).attr("fill","none").attr("stroke","#222").attr("stroke-width",1);

  // legend
  const bx=10, bw=w-19, by=2, bh=26;
  const lg=g.append("g");
  lg.append("rect").attr("x",bx+3).attr("y",by+3).attr("width",bw).attr("height",bh).attr("rx",3).attr("fill","#9a9a9a").attr("opacity",0.55);
  lg.append("rect").attr("x",bx).attr("y",by).attr("width",bw).attr("height",bh).attr("rx",3).attr("fill","#fff").attr("stroke","#d0d0d0");
  const ly=by+bh/2, ty=by+bh/2+5;
  const c2=bx+0.377*bw, c3=bx+0.79*bw;
  lg.append("line").attr("x1",bx+6).attr("x2",bx+39).attr("y1",ly).attr("y2",ly).attr("stroke","#0a7d0a").attr("stroke-width",1.3);
  lg.append("text").attr("x",bx+50).attr("y",ty).text("Actual").attr("font-family",SERIF).attr("font-size",15);
  lg.append("line").attr("x1",c2).attr("x2",c2+34).attr("y1",ly).attr("y2",ly).attr("stroke","#ff1010").attr("stroke-width",1.3);
  lg.append("text").attr("x",c2+44).attr("y",ty).text(forecastNames[k]).attr("font-family",SERIF).attr("font-size",15);
  lg.append("circle").attr("cx",c3).attr("cy",ly).attr("r",2).attr("fill","#0000e6");
  lg.append("text").attr("x",bx+bw-8).attr("y",ty).attr("text-anchor","end").text("Error").attr("font-family",SERIF).attr("font-size",15);

  // labels
  g.append("text").attr("x",w/2).attr("y",h+38).attr("text-anchor","middle")
    .attr("font-family",SERIF).attr("font-size",14.5).text(xAxisLabels[k]);
  g.append("text").attr("transform",`translate(-40,${h/2}) rotate(-90)`).attr("text-anchor","middle")
    .attr("font-family",SERIF).attr("font-size",14.5).text("Wind speed(m/s)");
});
</script>
</body></html>
